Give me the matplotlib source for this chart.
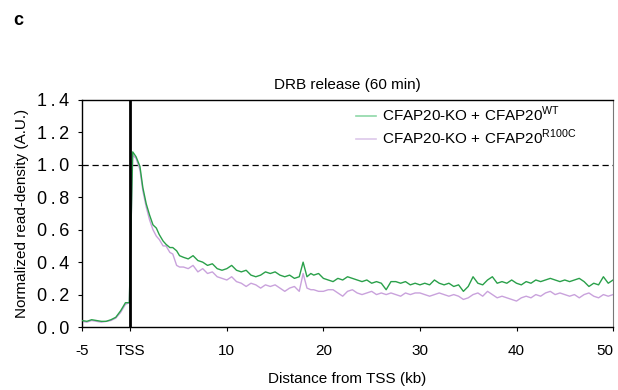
import matplotlib
matplotlib.use("Agg")
import matplotlib.pyplot as plt

plt.rcParams['font.family'] = ['Liberation Sans', 'DejaVu Sans']

# datos (distancia en kb desde el TSS)
x_head = [-5, -4.5, -4, -3.5, -3, -2.5, -2, -1.5, -1, -0.5, -0.1, 0.25, 0.6, 1.0, 1.3,
          1.65, 2.0, 2.35, 2.7, 3.0, 3.4, 3.7, 4.1, 4.4, 4.8, 5.1]
wt_head = [0.04, 0.035, 0.045, 0.04, 0.035, 0.035, 0.045, 0.06, 0.10, 0.15, 0.15, 1.08, 1.05,
           0.99, 0.86, 0.76, 0.69, 0.63, 0.61, 0.57, 0.53, 0.51, 0.49, 0.49, 0.47, 0.44]
mut_head = [0.035, 0.03, 0.04, 0.035, 0.03, 0.035, 0.04, 0.055, 0.09, 0.14, 0.15, 1.06, 1.04,
            0.97, 0.84, 0.74, 0.66, 0.60, 0.56, 0.54, 0.50, 0.50, 0.46, 0.45, 0.38, 0.37]

x_tail = [5.5, 6.0, 6.5, 7.0, 7.5, 8.0, 8.5, 9.0, 9.5, 10.0, 10.5, 11.0, 11.5, 12.0, 12.5,
          13.0, 13.5, 14.0, 14.5, 15.0, 15.5, 16.0, 16.5, 17.0, 17.5, 17.9, 18.3, 18.7,
          19.0, 19.5, 20.0, 20.5, 21.0, 21.5, 22.0, 22.5, 23.0, 23.5, 24.0, 24.5, 25.0,
          25.5, 26.0, 26.5, 27.0, 27.5, 28.0, 28.5, 29.0, 29.5, 30.0, 30.5, 31.0, 31.5,
          32.0, 32.5, 33.0, 33.5, 34.0, 34.5, 35.0, 35.5, 36.0, 36.5, 37.0, 37.5, 38.0,
          38.5, 39.0, 39.5, 40.0, 40.5, 41.0, 41.5, 42.0, 42.5, 43.0, 43.5, 44.0, 44.5,
          45.0, 45.5, 46.0, 46.5, 47.0, 47.5, 48.0, 48.5, 49.0, 49.5, 50.0]
wt_tail = [0.43, 0.42, 0.44, 0.41, 0.40, 0.38, 0.39, 0.36, 0.35, 0.36, 0.38, 0.35, 0.34,
           0.35, 0.32, 0.31, 0.32, 0.34, 0.33, 0.34, 0.32, 0.31, 0.32, 0.30, 0.31, 0.40,
           0.31, 0.33, 0.32, 0.33, 0.30, 0.29, 0.28, 0.30, 0.29, 0.31, 0.30, 0.29, 0.28,
           0.29, 0.27, 0.28, 0.27, 0.23, 0.28, 0.28, 0.27, 0.28, 0.26, 0.27, 0.26, 0.27,
           0.26, 0.29, 0.27, 0.26, 0.27, 0.25, 0.26, 0.22, 0.25, 0.31, 0.27, 0.26, 0.29,
           0.31, 0.27, 0.28, 0.27, 0.29, 0.27, 0.26, 0.28, 0.27, 0.29, 0.28, 0.29, 0.30,
           0.29, 0.28, 0.29, 0.28, 0.29, 0.30, 0.28, 0.25, 0.27, 0.26, 0.31, 0.27, 0.29]
mut_tail = [0.37, 0.36, 0.38, 0.34, 0.36, 0.33, 0.34, 0.31, 0.30, 0.29, 0.31, 0.28, 0.27,
            0.25, 0.27, 0.26, 0.24, 0.26, 0.25, 0.26, 0.24, 0.22, 0.24, 0.25, 0.22, 0.33,
            0.24, 0.23, 0.23, 0.22, 0.22, 0.23, 0.23, 0.21, 0.19, 0.22, 0.23, 0.21, 0.20,
            0.21, 0.22, 0.20, 0.21, 0.20, 0.21, 0.20, 0.19, 0.21, 0.20, 0.21, 0.21, 0.20,
            0.19, 0.20, 0.21, 0.20, 0.19, 0.20, 0.19, 0.17, 0.18, 0.20, 0.21, 0.19, 0.22,
            0.20, 0.18, 0.19, 0.18, 0.17, 0.16, 0.18, 0.19, 0.18, 0.20, 0.19, 0.21, 0.22,
            0.20, 0.21, 0.20, 0.19, 0.20, 0.18, 0.20, 0.21, 0.19, 0.18, 0.20, 0.19, 0.20]

x_kb = x_head + x_tail
wt = wt_head + wt_tail
r100c = mut_head + mut_tail

xticks = [-5, 0, 10, 20, 30, 40, 50]
xticklabels = ["-5", "TSS", "10", "20", "30", "40", "50"]
yticks = [0.0, 0.2, 0.4, 0.6, 0.8, 1.0, 1.2, 1.4]

green = "#2aa04a"
purple = "#c9a2dc"

fig = plt.figure(figsize=(6.18, 3.90), dpi=100)
ax = fig.add_axes([0.1327, 0.1615, 0.8593, 0.5821])

ax.plot(x_kb, r100c, color=purple, lw=1.0, zorder=2)
ax.plot(x_kb, wt, color=green, lw=1.0, zorder=3)

ax.axhline(1.0, color="black", lw=0.9, ls=(0, (5, 3)), zorder=1)
ax.axvline(0, color="black", lw=2.0, zorder=4)

ax.set_xlim(-5, 50)
ax.set_ylim(0, 1.4)
ax.set_xticks(xticks)
ax.set_xticklabels(xticklabels, fontsize=11)
ax.get_xticklabels()[-1].set_ha("right")
ax.get_xticklabels()[-1].set_x(50)
ax.set_yticks(yticks)
ax.set_yticklabels([" ".join("%.1f" % v) .replace(" ", "\u2009") for v in yticks], fontsize=13)
ax.tick_params(axis="x", direction="out", length=3, width=0.8, pad=9)
ax.tick_params(axis="y", direction="out", length=3, width=0.8, pad=6)

for s in ["left", "bottom", "top"]:
    ax.spines[s].set_color("black")
    ax.spines[s].set_linewidth(1.0)
ax.spines["right"].set_color("#777777")

ax.set_xlabel("Distance from TSS (kb)", fontsize=11, labelpad=10)
ax.set_ylabel("Normalized read-density (A.U.)", fontsize=11, labelpad=6)
ax.set_title("DRB release (60 min)", fontsize=11, pad=8)

# leyenda manual con lineas cortas y colores claros
h1, = ax.plot([], [], color="#8fd8a8", lw=1.2)
h2, = ax.plot([], [], color="#ddc8ea", lw=1.2)
ax.legend([h1, h2], ["CFAP20-KO + CFAP20$^{\\mathregular{WT}}$",
                     "CFAP20-KO + CFAP20$^{\\mathregular{R100C}}$"],
          loc="upper left", bbox_to_anchor=(0.49, 1.04), frameon=False,
          fontsize=11, handlelength=1.3, handletextpad=0.4, labelspacing=0.25)

fig.text(0.021, 0.935, "c", fontsize=13, fontweight="bold")

fig.savefig("out.png", dpi=100)
